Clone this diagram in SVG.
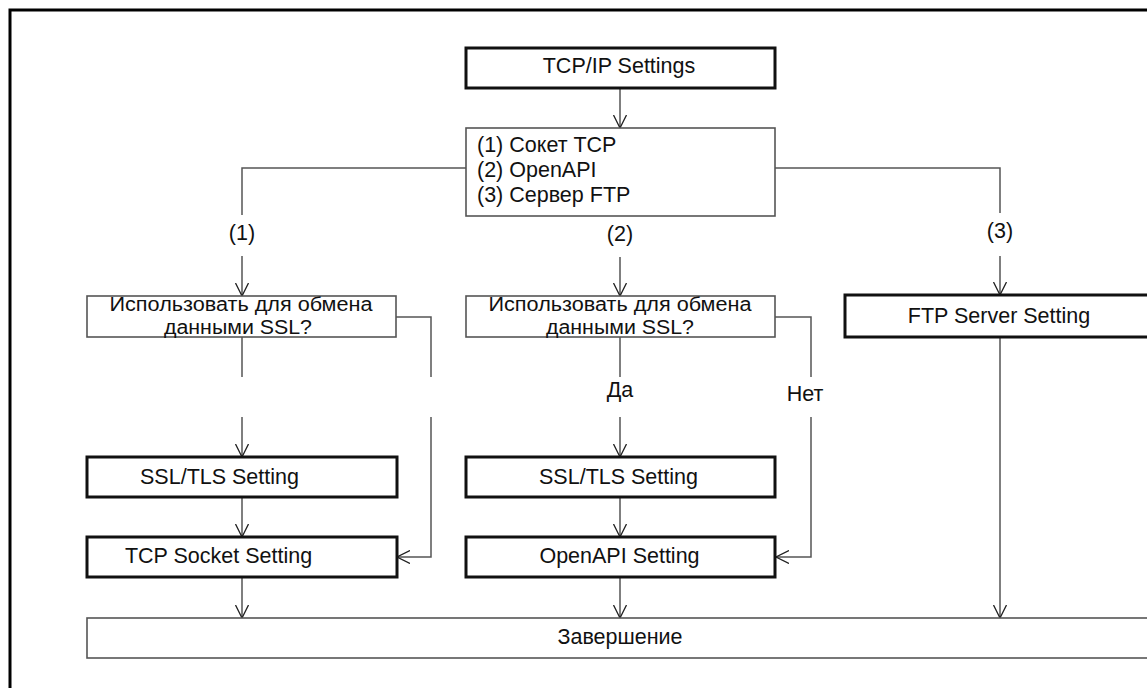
<svg xmlns="http://www.w3.org/2000/svg" width="1147" height="688" viewBox="0 0 1147 688">
<style>
text{font-family:"Liberation Sans",Arial,sans-serif;font-size:21.5px;fill:#111;}
.m{text-anchor:middle;}
.q{font-size:19.5px;}
.thick{fill:#fff;stroke:#111;stroke-width:3;}
.thin{fill:#fff;stroke:#555;stroke-width:1.6;}
.c{fill:none;stroke:#555;stroke-width:1.5;}
.ca{fill:none;stroke:#555;stroke-width:1.5;marker-end:url(#arr);}
</style>
<defs>
<marker id="arr" viewBox="0 0 14 14" refX="13" refY="7" markerWidth="14" markerHeight="14" markerUnits="userSpaceOnUse" orient="auto">
<path d="M0,0.5 L13,7 L0,13.5" fill="none" stroke="#222" stroke-width="1.3"/>
</marker>
</defs>
<rect x="0" y="0" width="1147" height="688" fill="#fff"/>
<rect x="10" y="10" width="1200" height="720" fill="none" stroke="#000" stroke-width="3"/>
<g id="connectors">
<path class="ca" d="M620,88 L620,128"/>
<path class="c" d="M466,168 L242,168 L242,215"/>
<path class="ca" d="M242,256 L242,296"/>
<path class="c" d="M775,168 L1000,168 L1000,213"/>
<path class="ca" d="M1000,256 L1000,295"/>
<path class="ca" d="M620,257 L620,296"/>
<path class="c" d="M242,337 L242,377"/>
<path class="ca" d="M242,417 L242,457"/>
<path class="c" d="M396,317 L431,317 L431,377"/>
<path class="ca" d="M431,417 L431,557 L397,557"/>
<path class="ca" d="M242,497 L242,537"/>
<path class="ca" d="M242,577 L242,618"/>
<path class="c" d="M620,337 L620,377"/>
<path class="ca" d="M620,417 L620,457"/>
<path class="c" d="M775,317 L811,317 L811,377"/>
<path class="ca" d="M811,417 L811,557 L776,557"/>
<path class="ca" d="M620,497 L620,537"/>
<path class="ca" d="M620,577 L620,618"/>
<path class="ca" d="M1000,337 L1000,618"/>
<text class="m" x="242" y="240">(1)</text>
<text class="m" x="620" y="241">(2)</text>
<text class="m" x="1000" y="238">(3)</text>
<text class="m" x="620" y="397">Да</text>
<text class="m" x="805" y="401">Нет</text>
</g>
<g id="tcpip">
<rect class="thick" x="466" y="48" width="309" height="40"/>
<text class="m" x="619" y="73">TCP/IP Settings</text>
</g>
<g id="select">
<rect class="thin" x="466" y="128" width="309" height="88"/>
<text x="477" y="152">(1) Сокет TCP</text>
<text x="477" y="177">(2) OpenAPI</text>
<text x="477" y="202">(3) Сервер FTP</text>
</g>
<g id="ssl-q1">
<rect class="thin" x="87" y="296" width="309" height="41"/>
<text class="m q" x="241" y="311" textLength="263" lengthAdjust="spacingAndGlyphs">Использовать для обмена</text>
<text class="m q" x="238" y="334" textLength="148" lengthAdjust="spacingAndGlyphs">данными SSL?</text>
</g>
<g id="ssl-q2">
<rect class="thin" x="466" y="296" width="309" height="41"/>
<text class="m q" x="620" y="311" textLength="263" lengthAdjust="spacingAndGlyphs">Использовать для обмена</text>
<text class="m q" x="620" y="334" textLength="148" lengthAdjust="spacingAndGlyphs">данными SSL?</text>
</g>
<g id="ftp">
<rect class="thick" x="845" y="295" width="330" height="42"/>
<text class="m" x="999" y="323">FTP Server Setting</text>
</g>
<g id="ssltls1">
<rect class="thick" x="87" y="457" width="310" height="40"/>
<text class="m" x="219.5" y="484">SSL/TLS Setting</text>
</g>
<g id="tcpsocket">
<rect class="thick" x="87" y="537" width="310" height="40"/>
<text class="m" x="218.5" y="563">TCP Socket Setting</text>
</g>
<g id="ssltls2">
<rect class="thick" x="466" y="457" width="309" height="40"/>
<text class="m" x="618.5" y="484">SSL/TLS Setting</text>
</g>
<g id="openapi">
<rect class="thick" x="466" y="537" width="309" height="40"/>
<text class="m" x="619.5" y="563">OpenAPI Setting</text>
</g>
<g id="finish">
<rect class="thin" x="87" y="618" width="1100" height="40"/>
<text class="m" x="620" y="644">Завершение</text>
</g>
</svg>
